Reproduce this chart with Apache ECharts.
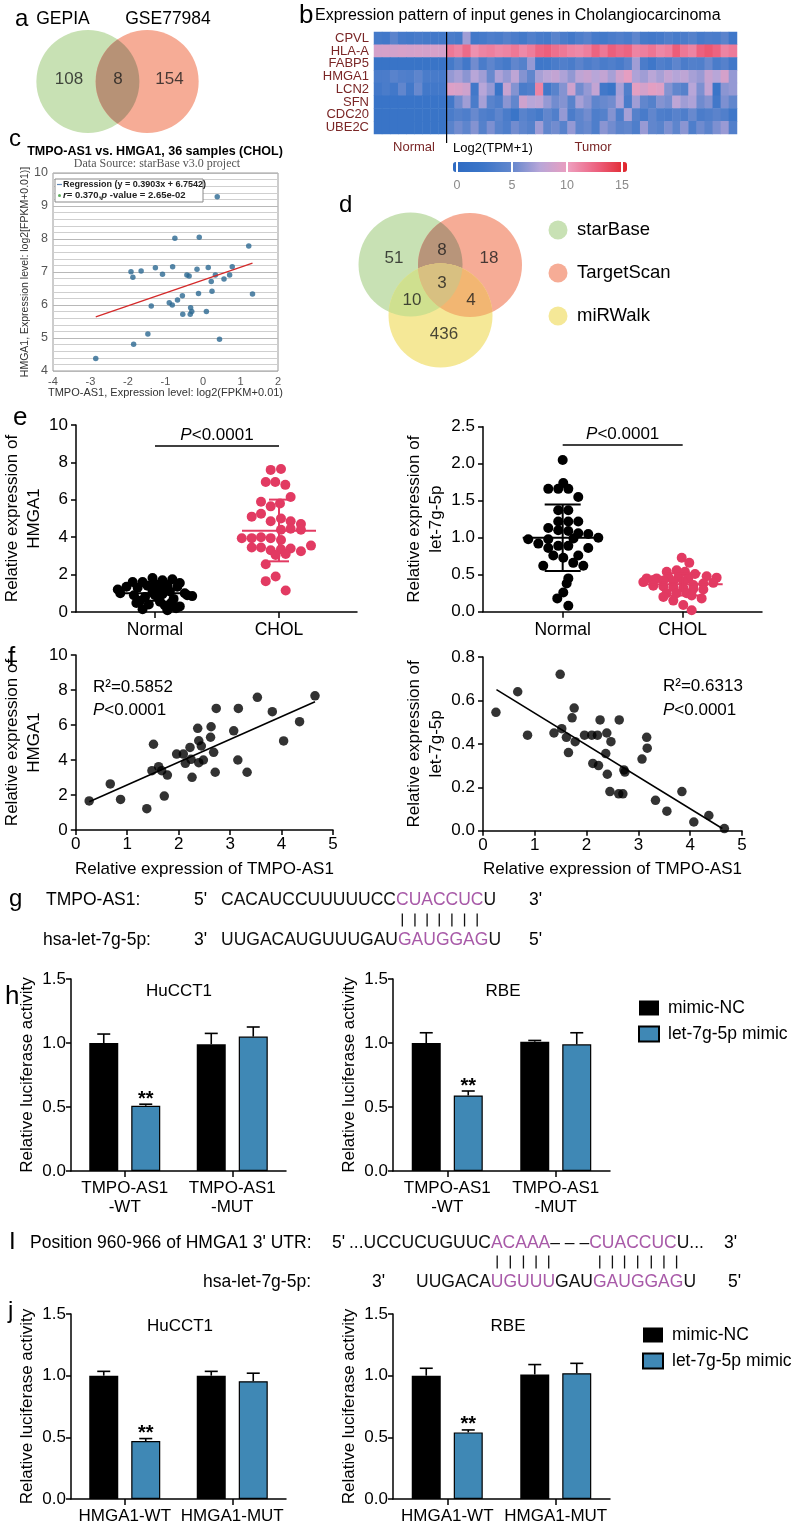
<!DOCTYPE html>
<html>
<head>
<meta charset="utf-8">
<title>TMPO-AS1 / let-7g-5p / HMGA1</title>
<script src="https://cdn.jsdelivr.net/npm/echarts@6/dist/echarts.min.js"></script>
<style>
  html, body { margin: 0; padding: 0; background: #fff; }
  #fig { width: 800px; height: 1528px; }
</style>
</head>
<body>
<div id="fig"></div>
<script>
// ---------- a: venn
const vennASets = ['GEPIA', 'GSE77984'];
const vennACounts = ['108', '8', '154'];

// ---------- b: heatmap, log2(TPM+1), 9 normal + 36 tumour samples
const genes = ['CPVL', 'HLA-A', 'FABP5', 'HMGA1', 'LCN2', 'SFN', 'CDC20', 'UBE2C'];
const nNormal = 9;
const exprCPVL = [3.2,3.0,4.6,3.3,3.1,3.4,3.2,3.0,3.1, 3.5,3.2,6.8,3.0,3.3,3.8,3.5,4.2,3.6,3.1,4.0,3.4,3.2,4.5,3.6,3.0,3.8,4.4,3.3,3.1,3.6,4.0,3.5,4.8,3.2,3.0,3.3,3.9,3.4,3.6,4.2,3.3,3.7,3.5,4.6,2.8];
const exprHLAA = [8.8,8.9,8.7,8.9,8.8,8.9,8.8,8.9,8.8, 11.5,11.0,12.0,10.5,11.0,11.2,10.8,11.0,11.5,10.8,11.3,12.2,12.5,11.8,11.5,11.0,10.8,11.2,12.3,11.5,12.5,12.0,12.3,11.0,11.2,11.6,10.9,11.2,12.6,11.5,11.0,12.4,12.8,12.3,11.0,11.4];
const exprFABP5 = [2.2,2.2,2.2,2.2,2.2,2.2,2.2,2.2,2.2, 3.2,4.5,3.0,5.5,3.5,4.8,3.8,3.2,5.0,4.2,6.5,2.8,2.9,3.5,4.0,3.5,4.6,3.7,4.3,3.5,3.9,3.4,4.4,6.8,3.6,2.8,4.0,3.5,4.8,3.6,4.1,3.9,5.2,3.5,4.3,3.0];
const exprHMGA1 = [3.5,3.6,4.5,4.0,3.8,4.8,3.5,3.4,3.3, 6.5,7.0,6.2,7.5,6.8,5.2,7.2,6.5,7.8,6.0,5.0,7.0,7.6,8.0,7.2,6.4,7.8,8.2,7.5,8.0,7.0,8.6,9.6,7.2,6.8,7.6,7.0,8.0,7.4,7.8,7.0,6.6,8.2,7.5,8.8,6.5];
const exprLCN2 = [3.0,3.5,3.0,5.0,3.0,5.2,3.0,3.0,3.0, 9.2,9.0,8.5,3.0,7.5,6.5,2.5,8.2,6.0,3.5,4.0,11.0,3.0,4.5,6.0,8.5,5.5,6.5,8.0,3.0,2.5,7.0,4.0,9.5,8.8,9.5,9.2,6.0,5.0,4.2,7.5,5.8,8.0,2.5,6.2,6.5];
const exprSFN = [2.3,2.3,2.3,2.3,2.3,2.3,2.3,2.3,2.3, 3.0,5.5,6.8,3.5,7.0,4.5,3.8,6.2,5.0,8.5,7.5,7.8,6.5,5.5,6.0,4.5,7.0,6.2,4.8,5.2,5.5,7.2,3.5,6.8,5.0,4.2,6.0,5.6,7.8,6.8,7.2,5.4,6.0,3.0,5.8,5.0];
const exprCDC20 = [2.2,2.2,2.2,2.2,2.2,2.2,2.2,2.2,2.2, 3.5,4.2,3.8,5.2,4.0,3.6,4.8,3.5,2.5,4.5,3.8,3.2,5.0,4.0,6.5,3.6,4.8,5.5,3.8,4.2,6.0,3.8,7.0,4.2,3.4,5.0,3.8,3.6,4.4,3.8,5.2,3.6,4.0,4.6,4.0,2.8];
const exprUBE2C = [2.2,2.2,2.2,2.2,2.2,2.2,2.2,2.2,2.2, 4.5,5.5,4.8,6.0,4.2,5.8,4.5,3.8,5.5,4.8,4.2,6.8,5.0,5.5,4.4,6.5,4.8,5.2,3.8,6.2,5.5,4.6,5.0,3.8,6.6,5.0,4.5,5.8,4.8,6.2,3.8,5.4,4.6,5.8,6.6,4.0];
const colorbarTicks = [0, 5, 10, 15];

// ---------- c: starBase scatter
const sbX = [0.38,-0.75,-0.10,1.22,-1.92,-1.87,-1.65,-1.27,-1.08,-0.81,-0.43,-0.37,-0.16,0.14,0.33,0.22,0.56,0.71,0.78,0.24,-0.12,1.32,-0.55,-0.68,-0.90,-0.82,-1.38,-0.33,-0.30,-0.34,-0.54,0.09,-1.47,0.44,-1.85,-2.86];
const sbY = [9.28,8.02,8.05,7.79,7.01,6.84,7.03,7.13,6.93,7.16,6.91,6.88,7.08,7.14,6.91,6.71,6.79,6.91,7.16,6.42,6.35,6.33,6.28,6.15,6.07,6.00,5.97,5.92,5.80,5.72,5.72,5.80,5.12,4.96,4.81,4.38];
const sbFitX = [-2.86, 1.32];
const sbFitY = [5.64, 7.27];

// ---------- d: venn
const vennDSets = ['starBase', 'TargetScan', 'miRWalk'];
const vennDCounts = ['51', '8', '18', '3', '10', '4', '436'];

// ---------- e: dot plots (x jitter in category units)
const eGroups = ['Normal', 'CHOL'];
const hmgaNormY = [1.82,1.7,1.75,1.6,1.55,1.6,1.5,1.45,1.4,1.35,1.35,1.35,1.3,1.25,1.2,1.1,1.05,1.0,1.0,0.95,0.9,0.9,0.9,0.85,0.8,0.7,0.6,0.55,0.48,0.48,0.4,0.35,0.3,0.2,0.15,0.1];
const hmgaNormDx = [-0.02,0.06,0.14,-0.1,0.2,-0.18,0.0,0.1,-0.06,-0.23,0.09,0.18,-0.14,0.04,-0.3,0.12,-0.02,-0.28,0.24,0.06,-0.17,0.0,0.26,0.3,-0.08,0.15,-0.12,0.04,-0.15,0.13,-0.05,0.08,0.2,0.17,-0.1,0.1];
const hmgaCholY = [7.6,7.65,6.95,6.95,6.8,6.15,5.9,5.65,5.8,5.1,5.25,4.85,5.0,4.85,4.7,4.4,4.45,4.4,3.95,4.0,3.95,3.85,3.94,3.45,3.45,3.3,3.35,3.4,3.25,3.55,3.05,3.1,2.55,1.9,1.65,1.15];
const hmgaCholDx = [-0.067,0.016,-0.107,-0.03,0.051,0.094,-0.145,-0.067,0.008,-0.22,-0.145,-0.067,0.016,0.094,0.177,0.016,0.094,0.177,-0.22,-0.145,-0.067,0.016,-0.3,-0.22,-0.145,-0.067,0.016,0.094,0.177,0.258,-0.027,0.054,-0.107,-0.027,-0.107,0.054];
const hmgaMean = [1.0, 4.35], hmgaLo = [0.6, 2.71], hmgaHi = [1.42, 6.01];
const let7NormY = [2.05,1.66,1.66,1.74,1.66,1.55,1.37,1.37,1.22,1.22,1.22,1.13,1.10,1.09,1.06,1.05,0.98,0.92,0.98,1.0,0.86,0.89,0.89,0.86,0.76,0.73,0.76,0.62,0.66,0.62,0.45,0.38,0.26,0.18,0.08,0.99];
const let7NormDx = [0,-0.12,-0.037,0.005,0.047,0.13,-0.037,0.047,-0.037,0.047,0.13,-0.12,-0.037,0.047,0.13,0.213,-0.287,-0.203,-0.12,0.297,-0.12,-0.037,0.047,0.213,-0.078,0.005,0.13,-0.162,0.088,0.172,0.047,0.033,0.005,-0.045,0.047,0.09];
const let7CholY = [0.73,0.66,0.54,0.56,0.54,0.51,0.48,0.46,0.45,0.45,0.47,0.47,0.45,0.43,0.40,0.39,0.42,0.41,0.40,0.38,0.36,0.35,0.34,0.33,0.32,0.31,0.30,0.25,0.25,0.25,0.18,0.22,0.15,0.09,0.02,0.20];
const let7CholDx = [-0.008,0.055,-0.133,-0.05,0.019,0.103,0.2,0.283,-0.3,-0.217,-0.12,-0.036,0.047,-0.245,-0.328,0.255,-0.161,-0.078,0.005,0.172,0.089,-0.245,-0.161,-0.078,0.005,0.089,0.172,-0.133,-0.05,0.033,0.158,0.075,-0.078,0.005,0.075,-0.161];
const let7Mean = [1.0, 0.37], let7Lo = [0.55, 0.22], let7Hi = [1.45, 0.52];
const pBarHmga = 8.9, pBarLet7 = 2.25;

// ---------- f: correlations with TMPO-AS1
const fHmgaX = [0.26,0.67,0.87,1.38,1.72,1.51,1.48,1.61,1.67,1.78,1.96,2.09,2.13,2.22,2.24,2.26,2.37,2.39,2.39,2.44,2.48,2.62,2.63,2.68,2.71,2.73,3.07,3.15,3.16,3.33,3.53,3.82,4.04,4.35,4.65];
const fHmgaY = [1.66,2.63,1.75,1.22,1.94,4.90,3.39,3.62,3.39,3.14,4.34,4.34,3.81,4.72,4.04,3.01,5.81,5.10,3.85,4.80,4.00,5.30,5.90,4.44,3.30,6.95,5.67,4.00,6.95,3.30,7.58,6.76,5.09,6.19,7.67];
const fHmgaFitX = [0.26, 4.65], fHmgaFitY = [1.62, 7.33];
const fLet7X = [0.25,0.67,0.86,1.49,1.37,1.52,1.61,1.65,1.72,1.76,1.78,1.96,2.12,2.10,2.21,2.23,2.26,2.37,2.39,2.40,2.47,2.45,2.63,2.62,2.70,2.72,2.74,3.07,3.16,3.17,3.33,3.55,3.84,4.07,4.36,4.66];
const fLet7Y = [0.545,0.64,0.44,0.72,0.45,0.47,0.43,0.36,0.52,0.565,0.41,0.44,0.31,0.44,0.44,0.30,0.51,0.355,0.45,0.26,0.41,0.18,0.51,0.17,0.17,0.28,0.27,0.33,0.43,0.38,0.14,0.09,0.18,0.04,0.07,0.01];
const fLet7FitX = [0.26, 4.62], fLet7FitY = [0.65, 0.01];

// ---------- h / j: luciferase
const lucSeries = ['mimic-NC', 'let-7g-5p mimic'];
const hGroups = ['TMPO-AS1\n-WT', 'TMPO-AS1\n-MUT'];
const hHuNC = [1.00, 0.99], hHuNCsd = [0.07, 0.085];
const hHuMi = [0.51, 1.05], hHuMisd = [0.012, 0.075];
const hHuSig = ['**', ''];
const hRbNC = [1.00, 1.01], hRbNCsd = [0.08, 0.01];
const hRbMi = [0.59, 0.99], hRbMisd = [0.035, 0.09];
const hRbSig = ['**', ''];
const jGroups = ['HMGA1-WT', 'HMGA1-MUT'];
const jHuNC = [1.00, 1.00], jHuNCsd = [0.035, 0.035];
const jHuMi = [0.47, 0.955], jHuMisd = [0.02, 0.065];
const jHuSig = ['**', ''];
const jRbNC = [1.00, 1.01], jRbNCsd = [0.06, 0.08];
const jRbMi = [0.54, 1.02], jRbMisd = [0.02, 0.08];
const jRbSig = ['**', ''];

// ---------- g / i sequences
const seqG1 = [['CACAUCCUUUUUCC', 'k'], ['CUACCUC', 'm'], ['U', 'k']];
const seqG2 = [['UUGACAUGUUUGAU', 'k'], ['GAUGGAG', 'm'], ['U', 'k']];
const seqI1 = [['...UCCUCUGUUC', 'k'], ['ACAAA', 'm'], ['\u2013 \u2013 \u2013', 'k'], ['CUACCUC', 'm'], ['U...', 'k']];
const seqI2 = [['UUGACA', 'k'], ['UGUUU', 'm'], ['GAU', 'k'], ['GAUGGAG', 'm'], ['U', 'k']];

// =====================================================================
const FONT = 'Liberation Sans';
const PURPLE = '#a85aa8';
const RED = '#e23a62';
const BLUE = '#3f88b5';
const HEAT_COLORS = ['#2e6ac2', '#3a75c8', '#6186cd', '#b8a6d8', '#ee9dbd', '#ec5f7c', '#e0252b'];
const VENN_A_FILL = { single: ['#c8e1b4', '#f6ac96'], pair: { '01': '#b79276' } };
const VENN_D_FILL = { single: ['#c8e1b4', '#f6ac96', '#f5e897'], pair: { '01': '#b8957a', '02': '#cfe08f', '12': '#f2b672' }, triple: '#d8c081' };

const chart = echarts.init(document.getElementById('fig'));

const box = {
  vennA: { left: 14.65, top: 4.25, width: 206, height: 154.5 },
  heat:  { left: 374, top: 32, width: 363, height: 102 },
  cbar:  { left: 457, top: 162, width: 165, height: 10 },
  sb:    { left: 53, top: 173, width: 225, height: 198 },
  vennD: { left: 336, top: 178, width: 208, height: 208 },
  eL:    { left: 76, top: 425, width: 281, height: 187 },
  eR:    { left: 483, top: 426.7, width: 279, height: 185 },
  fL:    { left: 73, top: 655, width: 260, height: 175 },
  fR:    { left: 483, top: 657, width: 259, height: 173.7 },
  hL:    { left: 71, top: 979, width: 215, height: 192 },
  hR:    { left: 393, top: 979, width: 217, height: 192 },
  jL:    { left: 71, top: 1314, width: 215, height: 185 },
  jR:    { left: 393, top: 1314, width: 217, height: 185 }
};
const keys = Object.keys(box);
const GI = {};
keys.forEach((k, i) => { GI[k] = i; });
const grids = keys.map(k => Object.assign({ containLabel: false, show: false }, box[k]));
grids[GI.sb].show = true;
grids[GI.sb].borderColor = '#9a9a9a';
grids[GI.sb].borderWidth = 1;

const xAxes = new Array(keys.length);
const yAxes = new Array(keys.length);

const black = { color: '#000', width: 1.5 };
const nameStyle = { color: '#000', fontSize: 17, fontFamily: FONT, lineHeight: 22 };

function prismY(k, min, max, interval, dec, name, nameGap, labelMargin) {
  yAxes[GI[k]] = {
    gridIndex: GI[k], type: 'value', min, max, interval,
    axisLine: { show: true, onZero: false, lineStyle: black },
    axisTick: { show: true, length: 5, lineStyle: black },
    axisLabel: { color: '#000', fontSize: 17, fontFamily: FONT, margin: labelMargin || 8, formatter: v => v.toFixed(dec) },
    splitLine: { show: false },
    name, nameLocation: 'middle', nameRotate: 90, nameGap, nameTextStyle: nameStyle
  };
}
function groupX(k, min, max, labels) {
  const idx = labels.map((_, i) => i);
  xAxes[GI[k]] = {
    gridIndex: GI[k], type: 'value', min, max,
    axisLine: { show: true, onZero: false, lineStyle: black },
    axisTick: { show: true, customValues: idx, length: 6, lineStyle: black },
    axisLabel: { customValues: idx, formatter: v => labels[Math.round(v)], color: '#000', fontSize: 17.5, fontFamily: FONT, margin: 9 },
    splitLine: { show: false }
  };
}
function valueX(k, name) {
  xAxes[GI[k]] = {
    gridIndex: GI[k], type: 'value', min: 0, max: 5, interval: 1,
    axisLine: { show: true, onZero: false, lineStyle: black },
    axisTick: { show: true, length: 5, lineStyle: black },
    axisLabel: { color: '#000', fontSize: 17, fontFamily: FONT, margin: 6 },
    splitLine: { show: false },
    name, nameLocation: 'middle', nameGap: 28, nameTextStyle: nameStyle
  };
}
function catX(k, cats) {
  xAxes[GI[k]] = {
    gridIndex: GI[k], type: 'category', data: cats,
    axisLine: { show: true, onZero: false, lineStyle: black },
    axisTick: { show: true, alignWithLabel: true, length: 6, lineStyle: black },
    axisLabel: { interval: 0, color: '#000', fontSize: 17, fontFamily: FONT, margin: 8, lineHeight: 19 },
    splitLine: { show: false }
  };
}
function hidden(k, xmin, xmax, ymin, ymax) {
  xAxes[GI[k]] = { gridIndex: GI[k], type: 'value', min: xmin, max: xmax, show: false };
  yAxes[GI[k]] = { gridIndex: GI[k], type: 'value', min: ymin, max: ymax, show: false };
}

// venn axes (unit = circle radius)
hidden('vennA', -2, 2, -1.5, 1.5);
hidden('vennD', -2, 2, -2, 2);

// heatmap axes
const sampleIds = exprCPVL.map((_, i) => 'S' + (i + 1));
xAxes[GI.heat] = { gridIndex: GI.heat, type: 'category', data: sampleIds, show: false };
yAxes[GI.heat] = {
  gridIndex: GI.heat, type: 'category', data: genes, inverse: true,
  axisLine: { show: false }, axisTick: { show: false },
  axisLabel: { interval: 0, color: '#7a2626', fontSize: 13, fontFamily: FONT, margin: 5 }
};
// colour bar ticks
xAxes[GI.cbar] = {
  gridIndex: GI.cbar, type: 'value', min: colorbarTicks[0], max: colorbarTicks[colorbarTicks.length - 1], interval: 5, z: 10,
  axisLine: { show: false }, axisTick: { show: false },
  axisLabel: { color: '#8a8a8a', fontSize: 12.5, fontFamily: FONT, margin: 7 },
  splitLine: { show: true, lineStyle: { color: '#fff', width: 2 } }
};
yAxes[GI.cbar] = { gridIndex: GI.cbar, type: 'value', min: 0, max: 1, show: false };

// starBase axes
xAxes[GI.sb] = {
  gridIndex: GI.sb, type: 'value', min: -4, max: 2, interval: 1,
  axisLine: { show: false }, axisTick: { show: false },
  axisLabel: { color: '#555', fontSize: 11, fontFamily: FONT, margin: 5 },
  splitLine: { show: false },
  name: 'TMPO-AS1, Expression level: log2(FPKM+0.01)', nameLocation: 'middle', nameGap: 16,
  nameTextStyle: { color: '#333', fontSize: 11, fontFamily: FONT }
};
yAxes[GI.sb] = {
  gridIndex: GI.sb, type: 'value', min: 4, max: 10, interval: 1,
  axisLine: { show: false }, axisTick: { show: false },
  minorTick: { show: false, splitNumber: 5 },
  axisLabel: { color: '#555', fontSize: 12.5, fontFamily: FONT, margin: 5 },
  splitLine: { show: true, lineStyle: { color: '#b8b8b8', width: 1 } },
  minorSplitLine: { show: true, lineStyle: { color: '#cfcfcf', width: 1 } },
  name: 'HMGA1, Expression level: log2[FPKM+0.01)]', nameLocation: 'middle', nameRotate: 90, nameGap: 17,
  nameTextStyle: { color: '#333', fontSize: 10.5, fontFamily: FONT }
};

// e / f axes
groupX('eL', -0.637, 1.629, eGroups);
prismY('eL', 0, 10, 2, 0, 'Relative expression of\nHMGA1', 25);
groupX('eR', -0.664, 1.661, eGroups);
prismY('eR', 0, 2.5, 0.5, 1, 'Relative expression of\nlet-7g-5p', 32);
valueX('fL', 'Relative expression of TMPO-AS1');
prismY('fL', 0, 10, 2, 0, 'Relative expression of\nHMGA1', 22);
valueX('fR', 'Relative expression of TMPO-AS1');
prismY('fR', 0, 0.8, 0.2, 1, 'Relative expression of\nlet-7g-5p', 32);

// bar chart axes
catX('hL', hGroups); prismY('hL', 0, 1.5, 0.5, 1, 'Relative luciferase activity', 32, 5);
catX('hR', hGroups); prismY('hR', 0, 1.5, 0.5, 1, 'Relative luciferase activity', 33, 5);
catX('jL', jGroups); prismY('jL', 0, 1.5, 0.5, 1, 'Relative luciferase activity', 32, 5);
catX('jR', jGroups); prismY('jR', 0, 1.5, 0.5, 1, 'Relative luciferase activity', 33, 5);

// =====================================================================
const series = [];
function onGrid(k, s) { return Object.assign({ xAxisIndex: GI[k], yAxisIndex: GI[k], silent: true, animation: false }, s); }

// each circle is drawn with its overlaps on the circles drawn before it (clip paths)
function vennSeries(k, circles, fill) {
  return onGrid(k, {
    type: 'custom', data: circles, z: 1,
    renderItem(params, api) {
      const i = params.dataIndex;
      const shp = j => {
        const c = api.coord([circles[j][0], circles[j][1]]);
        return { cx: c[0], cy: c[1], r: api.size([circles[j][2], 0])[0] };
      };
      const kids = [{ type: 'circle', shape: shp(i), style: { fill: fill.single[i] } }];
      for (let j = 0; j < i; j++) {
        kids.push({ type: 'circle', shape: shp(i), clipPath: { type: 'circle', shape: shp(j) }, style: { fill: fill.pair[j + '' + i] } });
      }
      if (i === 2) {
        kids.push({ type: 'group', clipPath: { type: 'circle', shape: shp(0) }, children: [
          { type: 'circle', shape: shp(2), clipPath: { type: 'circle', shape: shp(1) }, style: { fill: fill.triple } }
        ] });
      }
      return { type: 'group', children: kids };
    }
  });
}
function vennLabels(k, pos, counts) {
  return onGrid(k, {
    type: 'scatter', symbolSize: 1, z: 3,
    itemStyle: { color: 'rgba(0,0,0,0)' },
    data: pos.map((p, i) => [p[0], p[1], counts[i]]),
    label: { show: true, position: 'inside', formatter: p => p.value[2], fontSize: 17, fontFamily: FONT, color: '#1c1c1c' }
  });
}

// a
series.push(vennSeries('vennA', [[-0.578, 0, 1], [0.573, 0, 1]], VENN_A_FILL));
series.push(vennLabels('vennA', [[-0.945, 0.05], [0.007, 0.05], [1.007, 0.05]], vennACounts));

// b
const heatRows = [exprCPVL, exprHLAA, exprFABP5, exprHMGA1, exprLCN2, exprSFN, exprCDC20, exprUBE2C];
const heatData = [];
heatRows.forEach((row, g) => row.forEach((v, s) => heatData.push([s, g, v])));
const heatIdx = series.length;
series.push(onGrid('heat', { type: 'heatmap', data: heatData, emphasis: { disabled: true }, itemStyle: { borderWidth: 0 } }));

// c
series.push(onGrid('sb', { type: 'scatter', symbolSize: 5.5, itemStyle: { color: '#2b6891' }, data: sbX.map((x, i) => [x, sbY[i]]) }));
series.push(onGrid('sb', { type: 'line', symbol: 'none', lineStyle: { color: '#d42a2a', width: 1.3 }, data: sbFitX.map((x, i) => [x, sbFitY[i]]) }));

// d
series.push(vennSeries('vennD', [[-0.567, 0.337, 1], [0.577, 0.327, 1], [0.01, -0.645, 1]], VENN_D_FILL));
series.push(vennLabels('vennD', [[-0.885, 0.46], [0.038, 0.615], [0.942, 0.46], [0.038, -0.02], [-0.538, -0.346], [0.596, -0.346], [0.077, -1.0]], vennDCounts));

// e
function dots(k, cat, dx, ys, color, size) {
  return onGrid(k, { type: 'scatter', symbolSize: size, itemStyle: { color, opacity: 1 }, data: ys.map((y, i) => [cat + dx[i], y]) });
}
function meanSd(k, mean, lo, hi, colors, half, cap) {
  return onGrid(k, {
    type: 'custom', z: 4,
    data: mean.map((m, i) => [i, m, lo[i], hi[i]]),
    renderItem(params, api) {
      const m = api.coord([api.value(0), api.value(1)]);
      const l = api.coord([api.value(0), api.value(2)]);
      const h = api.coord([api.value(0), api.value(3)]);
      const st = { stroke: colors[params.dataIndex], lineWidth: 2 };
      const x = m[0];
      return { type: 'group', children: [
        { type: 'line', shape: { x1: x - half, y1: m[1], x2: x + half, y2: m[1] }, style: st },
        { type: 'line', shape: { x1: x, y1: l[1], x2: x, y2: h[1] }, style: st },
        { type: 'line', shape: { x1: x - cap, y1: l[1], x2: x + cap, y2: l[1] }, style: st },
        { type: 'line', shape: { x1: x - cap, y1: h[1], x2: x + cap, y2: h[1] }, style: st }
      ] };
    }
  });
}
function pMark(y) {
  return {
    silent: true, symbol: 'none', animation: false,
    lineStyle: { color: '#000', width: 1.5, type: 'solid' },
    label: { show: true, position: 'middle', distance: 2, formatter: '{i|P}<0.0001', fontSize: 17, fontFamily: FONT, color: '#000',
      rich: { i: { fontStyle: 'italic', fontSize: 17, fontFamily: FONT, color: '#000' } } },
    data: [[{ coord: [0, y] }, { coord: [1, y] }]]
  };
}
series.push(dots('eL', 0, hmgaNormDx, hmgaNormY, '#000', 10));
const eLchol = dots('eL', 1, hmgaCholDx, hmgaCholY, RED, 10);
eLchol.markLine = pMark(pBarHmga);
series.push(eLchol);
series.push(meanSd('eL', hmgaMean, hmgaLo, hmgaHi, ['#000', RED], 37, 10));

series.push(dots('eR', 0, let7NormDx, let7NormY, '#000', 10));
const eRchol = dots('eR', 1, let7CholDx, let7CholY, RED, 10);
eRchol.markLine = pMark(pBarLet7);
series.push(eRchol);
series.push(meanSd('eR', let7Mean, let7Lo, let7Hi, ['#000', RED], 40, 18));

// f
series.push(onGrid('fL', { type: 'scatter', symbolSize: 9.5, itemStyle: { color: '#000' }, data: fHmgaX.map((x, i) => [x, fHmgaY[i]]) }));
series.push(onGrid('fL', { type: 'line', symbol: 'none', lineStyle: { color: '#000', width: 1.6 }, data: fHmgaFitX.map((x, i) => [x, fHmgaFitY[i]]) }));
series.push(onGrid('fR', { type: 'scatter', symbolSize: 9.5, itemStyle: { color: '#000' }, data: fLet7X.map((x, i) => [x, fLet7Y[i]]) }));
series.push(onGrid('fR', { type: 'line', symbol: 'none', lineStyle: { color: '#000', width: 1.6 }, data: fLet7FitX.map((x, i) => [x, fLet7FitY[i]]) }));

// h / j bars with one-sided SD error bars
const BAR_W = 29, BAR_GAP = 13;
function errBars(k, means, sds, offset, sig) {
  return onGrid(k, {
    type: 'custom', z: 5,
    data: means.map((m, i) => [i, m, m + sds[i]]),
    renderItem(params, api) {
      const b = api.coord([api.value(0), api.value(1)]);
      const t = api.coord([api.value(0), api.value(2)]);
      const x = b[0] + offset;
      const st = { stroke: '#000', lineWidth: 1.6 };
      const kids = [
        { type: 'line', shape: { x1: x, y1: b[1], x2: x, y2: t[1] }, style: st },
        { type: 'line', shape: { x1: x - 6.5, y1: t[1], x2: x + 6.5, y2: t[1] }, style: st }
      ];
      const s = sig && sig[params.dataIndex];
      if (s) kids.push({ type: 'text', x, y: t[1] + 5, style: { text: s, align: 'center', verticalAlign: 'bottom', fontSize: 20, fontWeight: 'bold', fontFamily: FONT, fill: '#000' } });
      return { type: 'group', children: kids };
    }
  });
}
function lucPanel(k, nc, ncSd, mi, miSd, sig) {
  series.push(onGrid(k, { type: 'bar', name: lucSeries[0], data: nc, barWidth: BAR_W, barGap: (BAR_GAP / BAR_W * 100) + '%', itemStyle: { color: '#000' } }));
  series.push(onGrid(k, { type: 'bar', name: lucSeries[1], data: mi, barWidth: BAR_W, barGap: (BAR_GAP / BAR_W * 100) + '%', itemStyle: { color: BLUE, borderColor: '#000', borderWidth: 1.2 } }));
  const off = (BAR_W + BAR_GAP) / 2;
  series.push(errBars(k, nc, ncSd, -off, null));
  series.push(errBars(k, mi, miSd, off, sig));
}
lucPanel('hL', hHuNC, hHuNCsd, hHuMi, hHuMisd, hHuSig);
lucPanel('hR', hRbNC, hRbNCsd, hRbMi, hRbMisd, hRbSig);
lucPanel('jL', jHuNC, jHuNCsd, jHuMi, jHuMisd, jHuSig);
lucPanel('jR', jRbNC, jRbNCsd, jRbMi, jRbMisd, jRbSig);

// =====================================================================
// text / decoration
const mctx = document.createElement('canvas').getContext('2d');
function tw(t, size) { mctx.font = size + 'px "' + FONT + '"'; return mctx.measureText(t).width; }

function txt(x, y, text, o) {
  return { type: 'text', x, y, silent: true, z: 10,
    style: Object.assign({ text, fill: '#000', fontSize: 17, fontFamily: FONT, align: 'left', verticalAlign: 'middle' }, o || {}) };
}
const SEQ = 17.5;
function seq(x, y, parts) {
  return { type: 'text', x, y, silent: true, z: 10, style: {
    text: parts.map(p => '{' + p[1] + '|' + p[0] + '}').join(''),
    verticalAlign: 'middle', align: 'left',
    rich: { k: { fill: '#111', fontSize: SEQ, fontFamily: FONT }, m: { fill: PURPLE, fontSize: SEQ, fontFamily: FONT } }
  } };
}
function pairBars(x0, parts, y) {
  const out = [];
  let x = x0;
  parts.forEach(p => {
    for (const ch of p[0]) {
      const w = tw(ch, SEQ);
      if (p[1] === 'm') out.push({ type: 'line', silent: true, z: 10, shape: { x1: x + w / 2, y1: y - 6.5, x2: x + w / 2, y2: y + 6.5 }, style: { stroke: '#111', lineWidth: 1.3 } });
      x += w;
    }
  });
  return out;
}

const gfx = [];
// panel letters
[['a', 15, 19, 24], ['b', 299, 16, 26], ['c', 9, 139, 24], ['d', 339, 205, 24], ['e', 13, 418, 26], ['f', 8, 658, 26],
 ['g', 9, 899, 24], ['h', 5, 997, 26], ['I', 9, 1242, 24], ['j', 8, 1311, 24]].forEach(l => {
  gfx.push(txt(l[1], l[2], l[0], { fontSize: l[3] }));
});
// a
gfx.push(txt(63, 19, vennASets[0], { align: 'center', fontSize: 17.5 }));
gfx.push(txt(168, 19, vennASets[1], { align: 'center', fontSize: 17.5 }));
// b
gfx.push(txt(315, 16, 'Expression pattern of input genes in Cholangiocarcinoma', { fontSize: 16 }));
gfx.push(txt(414, 147, 'Normal', { align: 'center', fontSize: 13, fill: '#7a2626' }));
gfx.push(txt(453, 148, 'Log2(TPM+1)', { fontSize: 13 }));
gfx.push(txt(593, 147, 'Tumor', { align: 'center', fontSize: 13, fill: '#7a2626' }));
// c
gfx.push(txt(155, 152, 'TMPO-AS1 vs. HMGA1, 36 samples (CHOL)', { align: 'center', fontSize: 12.5, fontWeight: 'bold' }));
gfx.push(txt(157, 164, 'Data Source: starBase v3.0 project', { align: 'center', fontSize: 12, fontFamily: 'Liberation Serif', fill: '#555' }));
gfx.push({ type: 'rect', silent: true, z: 9, shape: { x: 55, y: 179, width: 148, height: 23 }, style: { fill: '#fff', stroke: '#8a8a8a', lineWidth: 1 } });
gfx.push({ type: 'line', silent: true, z: 10, shape: { x1: 57, y1: 184.5, x2: 62, y2: 184.5 }, style: { stroke: '#5b84b5', lineWidth: 1.2 } });
gfx.push(txt(63, 184.5, 'Regression (y = 0.3903x + 6.7542)', { fontSize: 9, fontWeight: 'bold', fill: '#222' }));
gfx.push({ type: 'circle', silent: true, z: 10, shape: { cx: 59.5, cy: 195.5, r: 1.5 }, style: { fill: '#5cae5c' } });
gfx.push({ type: 'text', x: 63, y: 195.5, silent: true, z: 10, style: {
  text: '{i|r}= 0.370,{i|p} -value = 2.65e-02', verticalAlign: 'middle', fontSize: 9.5, fontWeight: 'bold', fontFamily: FONT, fill: '#222',
  rich: { i: { fontStyle: 'italic', fontWeight: 'bold', fontSize: 9.5, fontFamily: FONT, fill: '#222' } } } });
// d legend
vennDSets.forEach((s, i) => {
  gfx.push({ type: 'circle', silent: true, z: 10, shape: { cx: 558, cy: 230 + i * 43, r: 9.5 }, style: { fill: VENN_D_FILL.single[i] } });
  gfx.push(txt(577, 230 + i * 43, s, { fontSize: 18.5 }));
});
// f annotations
const richP = { i: { fontStyle: 'italic', fontSize: 17, fontFamily: FONT, fill: '#000' } };
gfx.push(txt(93, 687, 'R\u00b2=0.5852'));
gfx.push(txt(93, 710, '{i|P}<0.0001', { rich: richP }));
gfx.push(txt(663, 686, 'R\u00b2=0.6313'));
gfx.push(txt(663, 710, '{i|P}<0.0001', { rich: richP }));
// g
gfx.push(txt(46, 900, 'TMPO-AS1:', { fontSize: SEQ }));
gfx.push(txt(194, 900, "5'", { fontSize: SEQ }));
gfx.push(seq(221, 900, seqG1));
gfx.push(txt(529, 900, "3'", { fontSize: SEQ }));
gfx.push(...pairBars(221, seqG1, 920));
gfx.push(txt(43, 940, 'hsa-let-7g-5p:', { fontSize: SEQ }));
gfx.push(txt(194, 940, "3'", { fontSize: SEQ }));
gfx.push(seq(221, 940, seqG2));
gfx.push(txt(529, 940, "5'", { fontSize: SEQ }));
// h / j titles
gfx.push(txt(179, 991, 'HuCCT1', { align: 'center' }));
gfx.push(txt(503, 991, 'RBE', { align: 'center' }));
gfx.push(txt(180, 1326, 'HuCCT1', { align: 'center' }));
gfx.push(txt(508, 1326, 'RBE', { align: 'center' }));
// i
gfx.push(txt(30, 1243, "Position 960-966 of HMGA1 3' UTR:", { fontSize: SEQ }));
gfx.push(txt(332, 1243, "5'", { fontSize: SEQ }));
gfx.push(seq(349, 1243, seqI1));
gfx.push(txt(724, 1243, "3'", { fontSize: SEQ }));
gfx.push(...pairBars(416, seqI2, 1262));
gfx.push(txt(311, 1282, 'hsa-let-7g-5p:', { fontSize: SEQ, align: 'right' }));
gfx.push(txt(372, 1282, "3'", { fontSize: SEQ }));
gfx.push(seq(416, 1282, seqI2));
gfx.push(txt(728, 1282, "5'", { fontSize: SEQ }));

const legendBase = {
  data: lucSeries, orient: 'vertical', itemWidth: 20, itemHeight: 15, itemGap: 8, padding: 0,
  selectedMode: false, icon: 'rect', textStyle: { fontSize: 17.5, fontFamily: FONT, color: '#000', padding: [0, 0, 0, 4] }
};

chart.setOption({
  animation: false,
  backgroundColor: '#fff',
  textStyle: { fontFamily: FONT },
  grid: grids,
  xAxis: xAxes,
  yAxis: yAxes,
  visualMap: {
    type: 'continuous', seriesIndex: heatIdx, min: 0, max: 15, orient: 'horizontal',
    left: 453, top: 162, itemWidth: 10, itemHeight: 174, padding: 0,
    calculable: false, hoverLink: false, inRange: { color: HEAT_COLORS }
  },
  legend: [
    Object.assign({}, legendBase, { left: 638, top: 999 }),
    Object.assign({}, legendBase, { left: 642, top: 1326 })
  ],
  series,
  graphic: { elements: gfx }
});

// separator between normal and tumour columns in the heatmap
const pA = chart.convertToPixel({ gridIndex: GI.heat }, [nNormal - 1, 0]);
const pB = chart.convertToPixel({ gridIndex: GI.heat }, [nNormal, 0]);
const sepX = (pA[0] + pB[0]) / 2;
chart.setOption({
  graphic: { elements: [{ id: 'sep', type: 'line', silent: true, z: 10,
    shape: { x1: sepX, y1: box.heat.top, x2: sepX, y2: box.heat.top + box.heat.height + 9 },
    style: { stroke: '#000', lineWidth: 1.2 } }] }
});
</script>
</body>
</html>
